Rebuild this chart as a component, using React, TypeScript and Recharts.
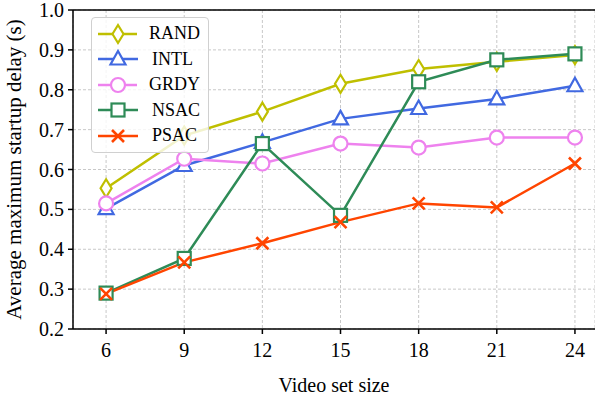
import React from 'react';
import { LineChart, Line, XAxis, YAxis, CartesianGrid, ReferenceLine } from 'recharts';

const sizes = [6, 9, 12, 15, 18, 21, 24];
const rand = [0.553, 0.685, 0.745, 0.815, 0.852, 0.87, 0.887];
const intl = [0.502, 0.61, 0.668, 0.727, 0.753, 0.777, 0.81];
const grdy = [0.515, 0.627, 0.615, 0.665, 0.655, 0.68, 0.68];
const nsac = [0.29, 0.377, 0.665, 0.485, 0.82, 0.875, 0.89];
const psac = [0.288, 0.367, 0.415, 0.468, 0.515, 0.505, 0.615];
const yTicks = [0.2, 0.3, 0.4, 0.5, 0.6, 0.7, 0.8, 0.9, 1.0];

const data = sizes.map((s, i) => ({
  size: s,
  RAND: rand[i],
  INTL: intl[i],
  GRDY: grdy[i],
  NSAC: nsac[i],
  PSAC: psac[i],
}));

type Shape = 'diamond' | 'triangle' | 'circle' | 'square' | 'x';

const series: { key: string; color: string; shape: Shape }[] = [
  { key: 'RAND', color: '#bfbf00', shape: 'diamond' },
  { key: 'INTL', color: '#4169e1', shape: 'triangle' },
  { key: 'GRDY', color: '#ee82ee', shape: 'circle' },
  { key: 'NSAC', color: '#2e8b57', shape: 'square' },
  { key: 'PSAC', color: '#ff4500', shape: 'x' },
];

const marker = (shape: Shape, color: string, cx: number, cy: number, key?: string) => {
  const sw = 2.2;
  switch (shape) {
    case 'diamond':
      return (
        <path key={key} d={`M${cx},${cy - 9} L${cx + 5.5},${cy} L${cx},${cy + 9} L${cx - 5.5},${cy} Z`}
          fill="#fff" stroke={color} strokeWidth={sw} />
      );
    case 'triangle':
      return (
        <path key={key} d={`M${cx},${cy - 8} L${cx + 7.5},${cy + 5.5} L${cx - 7.5},${cy + 5.5} Z`}
          fill="#fff" stroke={color} strokeWidth={sw} />
      );
    case 'circle':
      return <circle key={key} cx={cx} cy={cy} r={7} fill="#fff" stroke={color} strokeWidth={sw} />;
    case 'square':
      return <rect key={key} x={cx - 6.5} y={cy - 6.5} width={13} height={13} fill="#fff" stroke={color} strokeWidth={sw} />;
    default:
      return (
        <path key={key} d={`M${cx - 6},${cy - 6} L${cx + 6},${cy + 6} M${cx - 6},${cy + 6} L${cx + 6},${cy - 6}`}
          stroke={color} strokeWidth={2.6} fill="none" />
      );
  }
};

const LegendBox = () => (
  <div style={{
    position: 'absolute', left: 91, top: 17,
    border: '1.5px solid #d0d0d0', borderRadius: 4, background: 'rgba(255,255,255,0.8)',
    padding: '3px 8px 3px 4px', width: 104, boxSizing: 'content-box',
  }}>
    {series.map((s) => (
      <div key={s.key} style={{ display: 'flex', alignItems: 'center', height: 25.5 }}>
        <svg width={44} height={24}>
          <line x1={2} y1={12} x2={42} y2={12} stroke={s.color} strokeWidth={2.5} />
          {marker(s.shape, s.color, 22, 12)}
        </svg>
        <span style={{ marginLeft: 12, fontSize: 18, fontFamily: 'Liberation Serif', color: '#000' }}>{s.key}</span>
      </div>
    ))}
  </div>
);

export default function App() {
  return (
    <div style={{ position: 'absolute', left: 0, top: 0, width: 595, height: 404, background: '#fff' }}>
      <LineChart width={595} height={404} data={data} margin={{ top: 10, right: 0, left: 0, bottom: 0 }}
        style={{ fontFamily: 'Liberation Serif' }}>
        <CartesianGrid stroke="#c8c8c8" strokeDasharray="3 2" />
        <XAxis dataKey="size" type="number" domain={[4.73, 24.77]} ticks={sizes} allowDataOverflow interval={0}
          height={75} stroke="#000" strokeWidth={1.5} tickSize={5}
          tick={{ fill: '#000', fontSize: 20 }} tickMargin={9}
          label={{ value: 'Video set size', position: 'insideBottom', offset: 12, fill: '#000', fontSize: 20 }} />
        <YAxis domain={[0.2, 1.0]} ticks={yTicks} interval={0} width={73} stroke="#000" strokeWidth={1.5} tickSize={5}
          tickFormatter={(v: number) => v.toFixed(1)} tick={{ fill: '#000', fontSize: 20 }} tickMargin={4}
          label={{ value: 'Average maximum startup delay (s)', angle: -90, position: 'insideLeft', offset: 0, dx: 14, fill: '#000', fontSize: 21, style: { textAnchor: 'middle' } }} />
        <ReferenceLine y={1.0} stroke="#000" strokeWidth={1.5} />
        {series.map((s) => (
          <Line key={s.key} dataKey={s.key} stroke={s.color} strokeWidth={2.5} isAnimationActive={false}
            dot={(p: any) => marker(s.shape, s.color, p.cx, p.cy, `${s.key}-${p.index}`)} activeDot={false} />
        ))}
      </LineChart>
      <LegendBox />
    </div>
  );
}
